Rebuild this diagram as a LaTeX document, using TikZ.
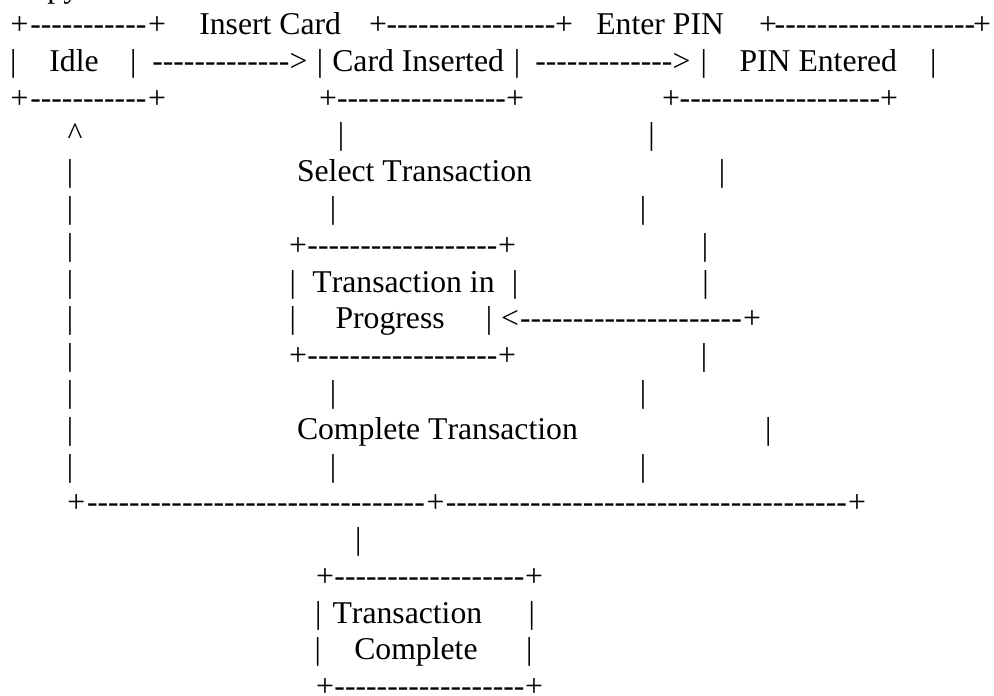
\documentclass[tikz,border=0pt]{standalone}
\usepackage{fontspec}
\newfontfamily\ascfont{Liberation Serif}[Kerning=Off]
\newcommand\dsh[1]{\ifnum#1>0 -\kern0pt\expandafter\dsh\expandafter{\the\numexpr#1-1\relax}\fi}
\newcommand\brun[2]{\hbox to #1pt{+\hss\dsh{#2}\hss+}}
\newcommand\lrun[2]{\hbox to #1pt{+\hss\dsh{#2}\hss}}
\newcommand\larr[2]{\hbox to #1pt{<\hss\dsh{#2}\hss+}}
\newcommand\vb{\textbar}
\tikzset{txt/.style={inner sep=0pt, outer sep=0pt, anchor=base west, text=black,
  font=\ascfont\fontsize{31.7}{38}\selectfont}}
\begin{document}
\begin{tikzpicture}[x=1pt,y=-1pt]
\useasboundingbox (0,0) rectangle (994,696);
\fill[white] (0,0) rectangle (994,696);
% row 0
\node[txt] (r0) at (10.5,-2.2) {Copy};
% row 1
\node[txt] (r1a) at (10.7,34.6) {\brun{155.3}{11}};
\node[txt] (r1b) at (199.3,34.6) {Insert Card};
\node[txt] (r1c) at (369,34.6) {\brun{204}{16}};
\node[txt] (r1d) at (596.3,34.6) {Enter PIN};
\node[txt] (r1e) at (759,34.6) {\brun{232}{19}};
% row 2
\node[txt] (r2a) at (10.15,71.4) {\vb};
\node[txt] (r2b) at (49.4,71.4) {Idle};
\node[txt] (r2c) at (130.15,71.4) {\vb};
\node[txt] (r2d) at (152.3,71.4) {\dsh{13}>};
\node[txt] (r2e) at (316.85,71.4) {\vb};
\node[txt] (r2f) at (332.3,71.4) {Card Inserted};
\node[txt] (r2g) at (513.85,71.4) {\vb};
\node[txt] (r2h) at (535.3,71.4) {\dsh{13}>};
\node[txt] (r2i) at (700.55,71.4) {\vb};
\node[txt] (r2j) at (739.5,71.4) {PIN Entered};
\node[txt] (r2k) at (930,71.4) {\vb};
% row 3
\node[txt] (r3a) at (10.7,108.2) {\brun{155.3}{11}};
\node[txt] (r3b) at (319,108.2) {\brun{205}{16}};
\node[txt] (r3c) at (662,108.2) {\brun{236}{19}};
% row 4
\node[txt] (r4a) at (67.6,144.9) {\textasciicircum};
\node[txt] (r4b) at (337.8,144.9) {\vb};
\node[txt] (r4c) at (648.3,144.9) {\vb};
% row 5
\node[txt] (r5a) at (66.8,181.7) {\vb};
\node[txt] (r5b) at (297,181.7) {Select Transaction};
\node[txt] (r5c) at (718.8,181.7) {\vb};
% row 6
\node[txt] (r6a) at (66.8,218.5) {\vb};
\node[txt] (r6b) at (329.8,218.5) {\vb};
\node[txt] (r6c) at (639.8,218.5) {\vb};
% row 7
\node[txt] (r7a) at (66.8,255.3) {\vb};
\node[txt] (r7b) at (289,255.3) {\brun{227}{18}};
\node[txt] (r7c) at (701.8,255.3) {\vb};
% row 8
\node[txt] (r8a) at (66.8,292.1) {\vb};
\node[txt] (r8b) at (289.5,292.1) {\vb};
\node[txt] (r8c) at (312.4,292.1) {Transaction in};
\node[txt] (r8d) at (511.8,292.1) {\vb};
\node[txt] (r8e) at (702.3,292.1) {\vb};
% row 9
\node[txt] (r9a) at (66.8,328.8) {\vb};
\node[txt] (r9b) at (289.5,328.8) {\vb};
\node[txt] (r9c) at (335.5,328.8) {Progress};
\node[txt] (r9d) at (485.8,328.8) {\vb};
\node[txt] (r9e) at (501,328.8) {\larr{260}{21}};
% row 10
\node[txt] (r10a) at (66.8,365.6) {\vb};
\node[txt] (r10b) at (289,365.6) {\brun{227}{18}};
\node[txt] (r10c) at (700.8,365.6) {\vb};
% row 11
\node[txt] (r11a) at (66.8,402.4) {\vb};
\node[txt] (r11b) at (329.8,402.4) {\vb};
\node[txt] (r11c) at (639.8,402.4) {\vb};
% row 12
\node[txt] (r12a) at (66.8,439.2) {\vb};
\node[txt] (r12b) at (297,439.2) {Complete Transaction};
\node[txt] (r12c) at (765.1,439.2) {\vb};
% row 13
\node[txt] (r13a) at (66.8,476) {\vb};
\node[txt] (r13b) at (329.8,476) {\vb};
\node[txt] (r13c) at (639.8,476) {\vb};
% row 14
\node[txt] (r14a) at (67.3,512.7) {\lrun{359.4}{32}};
\node[txt] (r14b) at (426.7,512.7) {\brun{439.3}{38}};
% row 15
\node[txt] (r15a) at (355.1,549.5) {\vb};
% row 16
\node[txt] (r16a) at (316,586.3) {\brun{227}{18}};
% row 17
\node[txt] (r17a) at (315.1,623.1) {\vb};
\node[txt] (r17b) at (332.6,623.1) {Transaction};
\node[txt] (r17c) at (528.5,623.1) {\vb};
% row 18
\node[txt] (r18a) at (314.5,659.9) {\vb};
\node[txt] (r18b) at (354.3,659.9) {Complete};
\node[txt] (r18c) at (526.1,659.9) {\vb};
% row 19
\node[txt] (r19a) at (316,696.6) {\brun{227}{18}};
\end{tikzpicture}
\end{document}
